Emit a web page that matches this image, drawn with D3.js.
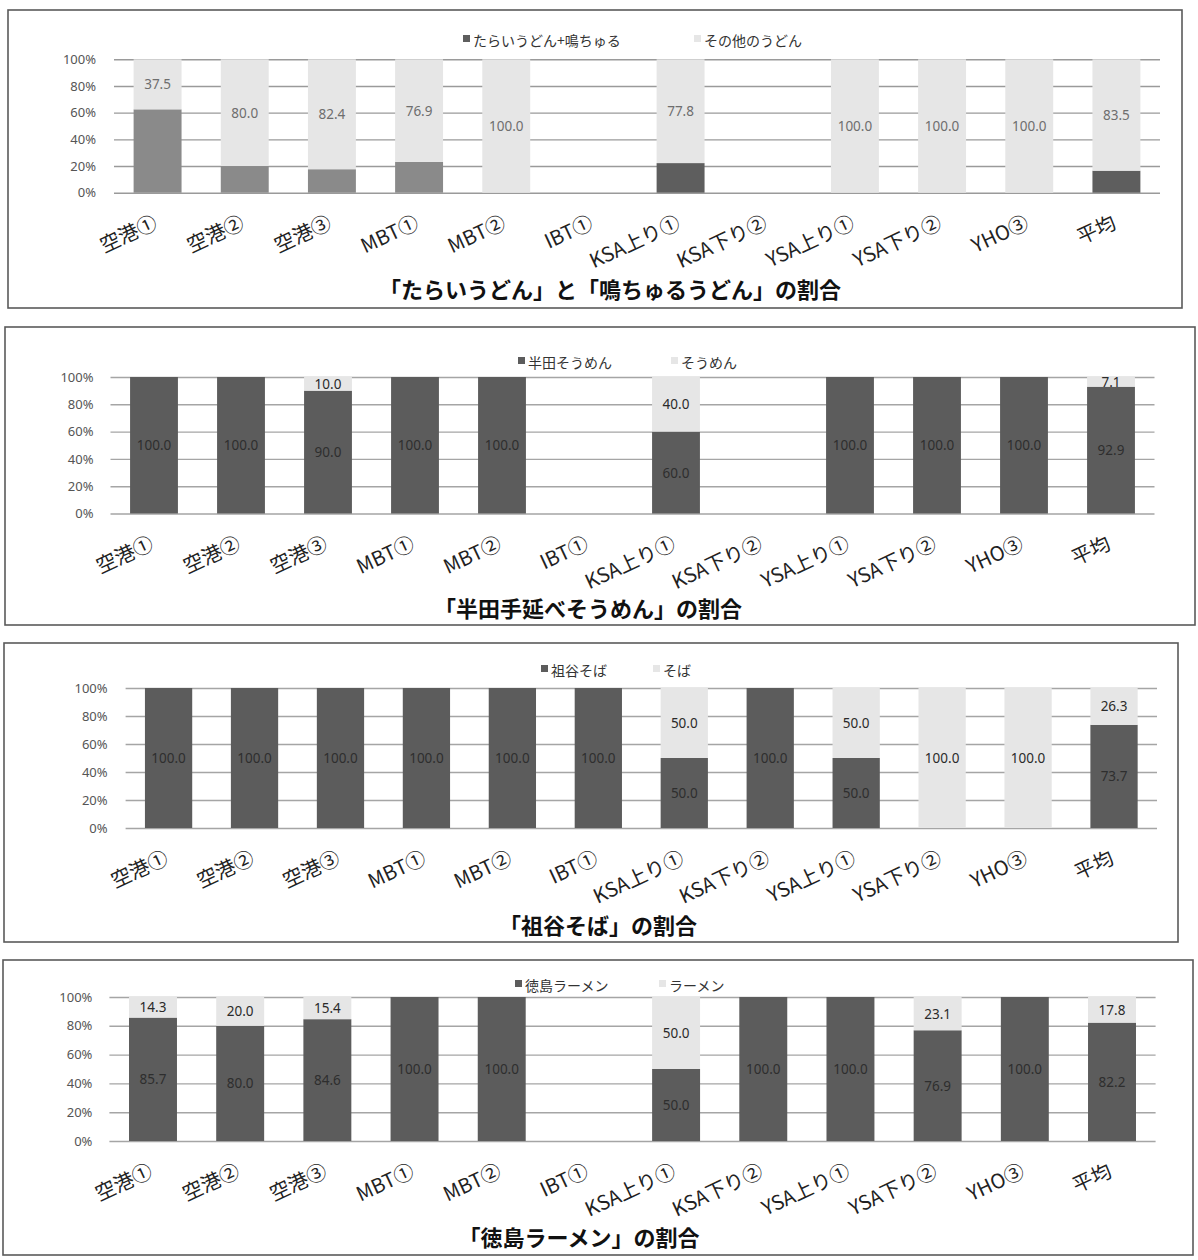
<!DOCTYPE html>
<html>
<head>
<meta charset="utf-8">
<script src="https://cdn.jsdelivr.net/npm/d3@7"></script>
<style>
  body { margin: 0; background: #fff; }
  svg { display: block; }
  text { font-family: "Noto Sans CJK JP", "Noto Sans", sans-serif; }
</style>
</head>
<body>
<svg id="chart" width="1198" height="1260"></svg>
<script>
// Survey locations shared by all four charts
const categories = ["空港①", "空港②", "空港③", "MBT①", "MBT②", "IBT①",
  "KSA上り①", "KSA下り②", "YSA上り①", "YSA下り②", "YHO③", "平均"];
const yTicks = [0, 20, 40, 60, 80, 100];

// Udon: local brands vs. other udon (%). null = no data at that location
const udonTitle = "「たらいうどん」と「鳴ちゅるうどん」の割合";
const udonSeries = ["たらいうどん+鳴ちゅる", "その他のうどん"];
const udonLocal = [62.5, 20.0, 17.6, 23.1, 0, null, 22.2, null, 0, 0, 0, 16.5];
const udonOther = [37.5, 80.0, 82.4, 76.9, 100.0, null, 77.8, null, 100.0, 100.0, 100.0, 83.5];

// Somen
const somenTitle = "「半田手延べそうめん」の割合";
const somenSeries = ["半田そうめん", "そうめん"];
const somenLocal = [100.0, 100.0, 90.0, 100.0, 100.0, null, 60.0, null, 100.0, 100.0, 100.0, 92.9];
const somenOther = [0, 0, 10.0, 0, 0, null, 40.0, null, 0, 0, 0, 7.1];

// Soba
const sobaTitle = "「祖谷そば」の割合";
const sobaSeries = ["祖谷そば", "そば"];
const sobaLocal = [100.0, 100.0, 100.0, 100.0, 100.0, 100.0, 50.0, 100.0, 50.0, 0, 0, 73.7];
const sobaOther = [0, 0, 0, 0, 0, 0, 50.0, 0, 50.0, 100.0, 100.0, 26.3];

// Ramen
const ramenTitle = "「徳島ラーメン」の割合";
const ramenSeries = ["徳島ラーメン", "ラーメン"];
const ramenLocal = [85.7, 80.0, 84.6, 100.0, 100.0, null, 50.0, 100.0, 100.0, 76.9, 100.0, 82.2];
const ramenOther = [14.3, 20.0, 15.4, 0, 0, null, 50.0, 0, 0, 23.1, 0, 17.8];

// Panel layout and styling
const panels = [
  {
    title: udonTitle, series: udonSeries, local: udonLocal, other: udonOther,
    frame: [8, 10, 1182, 308], xRange: [114, 1160], yRange: [192.7, 59.3],
    labelGap: 18, legendY: 40, legendX: [463, 694], titleX: 610, titleY: 298,
    darkFill: ["#8a8a8a", "#8a8a8a", "#8a8a8a", "#8a8a8a", "#8a8a8a", "#8a8a8a",
               "#5e5e5e", "#5e5e5e", "#5e5e5e", "#5e5e5e", "#5e5e5e", "#5e5e5e"],
    showDarkLabels: false, lightLabelColor: "#6e6e6e", gridColor: "#9a9a9a"
  },
  {
    title: somenTitle, series: somenSeries, local: somenLocal, other: somenOther,
    frame: [5, 327, 1195, 625], xRange: [110.5, 1154.5], yRange: [513.5, 377],
    labelGap: 17, legendY: 362, legendX: [518, 671], titleX: 588, titleY: 617,
    darkFill: null, showDarkLabels: true, lightLabelColor: "#2a2a2a", gridColor: "#a5a5a5"
  },
  {
    title: sobaTitle, series: sobaSeries, local: sobaLocal, other: sobaOther,
    frame: [4, 643, 1178, 942], xRange: [125.6, 1157], yRange: [828, 688],
    labelGap: 18, legendY: 670, legendX: [541, 653], titleX: 598, titleY: 934,
    darkFill: null, showDarkLabels: true, lightLabelColor: "#2a2a2a", gridColor: "#a5a5a5"
  },
  {
    title: ramenTitle, series: ramenSeries, local: ramenLocal, other: ramenOther,
    frame: [3, 960, 1193, 1255], xRange: [109.4, 1155.6], yRange: [1141, 997],
    labelGap: 17, legendY: 985, legendX: [515, 659], titleX: 579, titleY: 1246,
    darkFill: null, showDarkLabels: true, lightLabelColor: "#2a2a2a", gridColor: "#a5a5a5"
  }
];

const DARK = "#5c5c5c";
const LIGHT = "#e6e6e6";

const svg = d3.select("#chart");

panels.forEach(p => {
  const g = svg.append("g");

  // outer frame
  g.append("rect")
    .attr("x", p.frame[0]).attr("y", p.frame[1])
    .attr("width", p.frame[2] - p.frame[0]).attr("height", p.frame[3] - p.frame[1])
    .attr("fill", "#fff").attr("stroke", "#5a5a5a").attr("stroke-width", 1.6);

  const x = d3.scaleBand().domain(categories).range(p.xRange)
    .paddingInner(0.45).paddingOuter(0.225);
  const y = d3.scaleLinear().domain([0, 100]).range(p.yRange);

  // gridlines + percent tick labels
  const yAxis = d3.axisLeft(y).tickValues(yTicks)
    .tickSize(-(p.xRange[1] - p.xRange[0]))
    .tickPadding(p.labelGap)
    .tickFormat(d => d + "%");
  const ax = g.append("g").attr("transform", `translate(${p.xRange[0]},0)`).call(yAxis);
  ax.select(".domain").remove();
  ax.selectAll(".tick line").attr("stroke", p.gridColor).attr("stroke-width", 1.4);
  ax.selectAll(".tick text").attr("fill", "#555").attr("font-size", 13)
    .style("font-family", '"Noto Sans", sans-serif');

  const rows = categories.map((c, i) => ({ c, i, a: p.local[i], b: p.other[i] }))
    .filter(d => d.a !== null);

  const bw = x.bandwidth();
  const fillDark = d => p.darkFill ? p.darkFill[d.i] : DARK;

  // local-brand segment
  g.selectAll(".dark").data(rows.filter(d => d.a > 0)).join("rect")
    .attr("x", d => x(d.c)).attr("width", bw)
    .attr("y", d => y(d.a)).attr("height", d => y(0) - y(d.a))
    .attr("fill", fillDark);

  // other segment
  g.selectAll(".light").data(rows.filter(d => d.b > 0)).join("rect")
    .attr("x", d => x(d.c)).attr("width", bw)
    .attr("y", d => y(d.a + d.b)).attr("height", d => y(d.a) - y(d.a + d.b))
    .attr("fill", LIGHT);

  // value labels
  if (p.showDarkLabels) {
    g.selectAll(".dl").data(rows.filter(d => d.a > 0)).join("text")
      .attr("x", d => x(d.c) + bw / 2).attr("y", d => y(d.a / 2))
      .attr("text-anchor", "middle").attr("dominant-baseline", "central")
      .attr("font-size", 13.5).attr("fill", "#2e2e2e")
      .style("font-family", '"Noto Sans", sans-serif')
      .text(d => d.a.toFixed(1));
  }
  g.selectAll(".ll").data(rows.filter(d => d.b > 0)).join("text")
    .attr("x", d => x(d.c) + bw / 2).attr("y", d => y(d.a + d.b / 2))
    .attr("text-anchor", "middle").attr("dominant-baseline", "central")
    .attr("font-size", 13.5).attr("fill", p.lightLabelColor)
    .style("font-family", '"Noto Sans", sans-serif')
    .text(d => d.b.toFixed(1));

  // rotated category labels
  g.selectAll(".cat").data(categories).join("text")
    .attr("transform", d => `translate(${x(d) + bw / 2 + 1},${y(0) + 35}) rotate(-25)`)
    .attr("text-anchor", "end")
    .attr("font-size", 20).attr("fill", "#222")
    .text(d => d);

  // legend
  const lg = g.append("g");
  p.series.forEach((s, k) => {
    lg.append("rect")
      .attr("x", p.legendX[k]).attr("y", p.legendY - 5)
      .attr("width", 7).attr("height", 7)
      .attr("fill", k === 0 ? (p.darkFill ? "#5e5e5e" : DARK) : LIGHT);
    lg.append("text")
      .attr("x", p.legendX[k] + 10).attr("y", p.legendY)
      .attr("dominant-baseline", "central")
      .attr("font-size", 14).attr("fill", "#333")
      .text(s);
  });

  // chart title
  g.append("text")
    .attr("x", p.titleX).attr("y", p.titleY)
    .attr("text-anchor", "middle")
    .attr("font-size", 22).attr("font-weight", "bold").attr("fill", "#111")
    .text(p.title);
});
</script>
</body>
</html>
